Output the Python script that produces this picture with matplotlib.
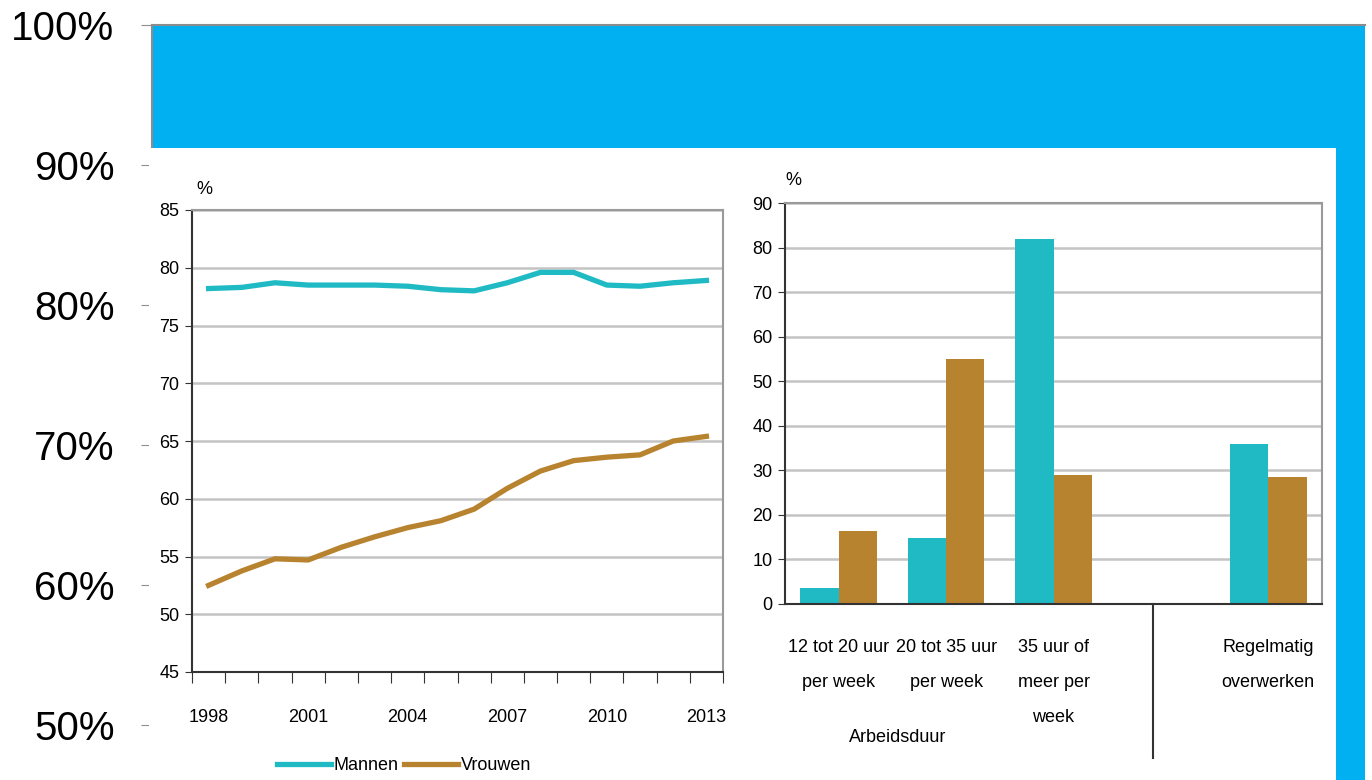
import matplotlib.pyplot as plt
from matplotlib.lines import Line2D
import numpy as np

# achtergrond (percentage-as met blauwe balk)
bg_ticks = [50, 60, 70, 80, 90, 100]
bg_value = [100]

# lijngrafiek: arbeidsparticipatie
jaren = list(range(1998, 2014))
mannen = [78.2, 78.3, 78.7, 78.5, 78.5, 78.5, 78.4, 78.1, 78.0, 78.7, 79.6, 79.6, 78.5, 78.4, 78.7, 78.9]
vrouwen = [52.5, 53.75, 54.8, 54.7, 55.8, 56.7, 57.5, 58.1, 59.1, 60.9, 62.4, 63.3, 63.6, 63.8, 65.0, 65.4]
jaar_labels = ["1998", "", "", "2001", "", "", "2004", "", "", "2007", "", "", "2010", "", "", "2013"]

# staafgrafiek
categorieen = ["12 tot 20 uur\nper week", "20 tot 35 uur\nper week", "35 uur of\nmeer per\nweek", "", "Regelmatig\noverwerken"]
bar_mannen = [3.55, 14.8, 82.0, 0, 36.0]
bar_vrouwen = [16.4, 54.9, 28.9, 0, 28.4]

CYAN = "#1fbac4"
BRUIN = "#b8832f"
BLAUW = "#00b0f0"
W, H = 1372, 780
narrow = ["Liberation Sans", "DejaVu Sans"]

fig = plt.figure(figsize=(W / 100, H / 100), dpi=100)

# --- achtergrond
ymin = 50 - 55 / 14.0
bg = fig.add_axes([152 / W, 0, (1365 - 152) / W, (H - 25) / H])
bg.bar([0], [v - ymin for v in bg_value], bottom=ymin, width=1.0, color=BLAUW)
bg.set_xlim(-0.5, 0.5)
bg.set_ylim(ymin, 100)
bg.set_yticks(bg_ticks)
bg.set_yticklabels([f"{t}%" for t in bg_ticks], fontsize=29, family="Liberation Sans")
bg.tick_params(axis="y", length=8, color="#909090", pad=19)
bg.set_xticks([])
for s in ["right", "bottom"]:
    bg.spines[s].set_visible(False)
for s in ["left", "top"]:
    bg.spines[s].set_color("#8c8c8c")
    bg.spines[s].set_linewidth(1.5)

# --- wit vlak van de ingevoegde afbeelding
cover = fig.add_axes([149 / W, 0, (1336 - 149) / W, (H - 148) / H])
cover.set_facecolor("white")
cover.set_xticks([])
cover.set_yticks([])
for s in cover.spines.values():
    s.set_visible(False)


def style(ax):
    ax.set_facecolor("white")
    ax.grid(axis="y", color="#c4c4c4", linewidth=1.8)
    ax.set_axisbelow(True)
    ax.spines["left"].set_color("#333333")
    ax.spines["bottom"].set_color("#333333")
    ax.spines["top"].set_color("#9a9a9a")
    ax.spines["right"].set_color("#9a9a9a")
    for s in ax.spines.values():
        s.set_linewidth(1.5)
    for lab in ax.get_yticklabels() + ax.get_xticklabels():
        lab.set_family(narrow)
        lab.set_fontsize(13)


# --- lijngrafiek
ax1 = fig.add_axes([192 / W, (H - 672) / H, (723 - 192) / W, (672 - 210) / H])
x = np.arange(len(jaren))
ax1.plot(x, mannen, color=CYAN, linewidth=3.8)
ax1.plot(x, vrouwen, color=BRUIN, linewidth=3.8)
ax1.set_xlim(-0.5, len(jaren) - 0.5)
ax1.set_ylim(45, 85)
ax1.set_yticks(range(45, 86, 5))
ax1.set_xticks(np.arange(len(jaren) + 1) - 0.5, minor=False)
ax1.set_xticklabels([""] * (len(jaren) + 1))
ax1.set_xticks(x, minor=True)
ax1.set_xticklabels(jaar_labels, minor=True)
ax1.tick_params(axis="x", which="major", length=8, color="#333333")
ax1.tick_params(axis="x", which="minor", length=0, pad=27)
ax1.tick_params(axis="y", length=5, color="#333333", pad=4)
style(ax1)
for lab in ax1.get_xticklabels(minor=True):
    lab.set_family(narrow)
    lab.set_fontsize(13)
ax1.text(0.008, 1.035, "%", transform=ax1.transAxes, fontsize=13, family=narrow, ha="left")

handles = [Line2D([], [], color=CYAN, linewidth=3.8), Line2D([], [], color=BRUIN, linewidth=3.8)]
fig.legend(handles, ["Mannen", "Vrouwen"], loc="center", bbox_to_anchor=(404 / W, (H - 766) / H),
           ncol=2, frameon=False, handlelength=3.0, handletextpad=0.15, columnspacing=0.3,
           prop={"family": narrow, "size": 13})

# --- staafgrafiek
ax2 = fig.add_axes([785 / W, (H - 604) / H, (1322 - 785) / W, (604 - 203) / H])
xb = np.arange(len(categorieen))
bw = 0.357
ax2.bar(xb - bw / 2, bar_mannen, width=bw, color=CYAN)
ax2.bar(xb + bw / 2, bar_vrouwen, width=bw, color=BRUIN)
ax2.set_xlim(-0.5, len(categorieen) - 0.5)
ax2.set_ylim(0, 90)
ax2.set_yticks(range(0, 91, 10))
ax2.set_xticks(xb)
ax2.set_xticklabels(categorieen, linespacing=2.4, va="top")
ax2.tick_params(axis="x", length=0, pad=25)
ax2.tick_params(axis="y", length=5, color="#333333", pad=4)
style(ax2)
ax2.text(0.0, 1.045, "%", transform=ax2.transAxes, fontsize=13, family=narrow, ha="left")
ax2.text(0.55, -30, "Arbeidsduur", fontsize=13, family=narrow, ha="center", va="center", clip_on=False)
ax2.plot([2.93, 2.93], [0, -34.6], color="#333333", linewidth=1.5, clip_on=False)

fig.savefig("out.png", dpi=100)
